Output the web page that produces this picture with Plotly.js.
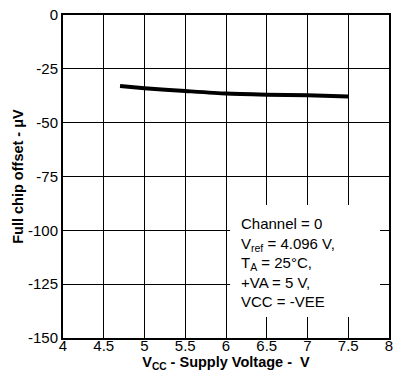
<!DOCTYPE html>
<html><head><meta charset="utf-8">
<script src="https://cdn.plot.ly/plotly-3.0.1.min.js"></script>
<style>html,body{margin:0;padding:0;background:#fff}</style>
</head><body>
<div id="chart" style="width:394px;height:381px"></div>
<script>
const supplyVoltage = [4.7, 5.0, 5.5, 6.0, 6.5, 7.0, 7.5];
const offsetUV = [-33.0, -34.0, -35.3, -36.5, -37.0, -37.3, -37.9];
const xTicks = [4, 4.5, 5, 5.5, 6, 6.5, 7, 7.5, 8];
const xTickLabels = ['4', '4.5', '5', '5.5', '6', '6.5', '7', '7.5', '8'];
const yTicks = [0, -25, -50, -75, -100, -125, -150];
const yTickLabels = ['0', '-25', '-50', '-75', '-100', '-125', '-150'];
const noteLines = ['Channel = 0', 'V<sub>ref</sub> = 4.096 V,', 'T<sub>A</sub> = 25°C,', '+VA = 5 V,', 'VCC = -VEE'];

const font = 'Liberation Sans, Arial, sans-serif';
const trace = {
  x: supplyVoltage, y: offsetUV, type: 'scatter', mode: 'lines',
  line: {color: '#000', width: 4, shape: 'spline', smoothing: 0.6},
  hoverinfo: 'skip'
};
const layout = {
  width: 394, height: 381,
  margin: {l: 63, r: 5, t: 15, b: 43},
  paper_bgcolor: '#fff', plot_bgcolor: '#fff',
  showlegend: false,
  font: {family: font, color: '#000', size: 15},
  xaxis: {
    range: [4, 8], tickvals: xTicks, ticktext: xTickLabels,
    showgrid: true, gridcolor: '#000', gridwidth: 1,
    zeroline: false, showline: true, linecolor: '#000', linewidth: 2, mirror: true,
    ticks: '', ticklen: 0, ticklabelstandoff: -7, tickfont: {size: 15, family: font},
    title: {text: '<b>V<sub>CC</sub> - Supply Voltage -  V</b>', font: {size: 14.5, family: font}, standoff: 4}
  },
  yaxis: {
    range: [-150, 0], tickvals: yTicks, ticktext: yTickLabels,
    showgrid: true, gridcolor: '#000', gridwidth: 1,
    zeroline: false, showline: true, linecolor: '#000', linewidth: 2, mirror: true,
    ticks: '', ticklen: 0, tickfont: {size: 15, family: font},
    title: {text: '<b>Full chip offset - μV</b>', font: {size: 14.5, family: font}, standoff: 1}
  },
  shapes: [{
    type: 'rect', xref: 'x', yref: 'y', x0: 6.05, x1: 7.89, y0: -88.2, y1: -140.3,
    fillcolor: '#fff', line: {width: 0}, layer: 'above'
  }],
  annotations: [{
    xref: 'x', yref: 'y', x: 6.16, y: -91.9, xanchor: 'left', yanchor: 'top',
    text: noteLines.join('<br>'), align: 'left', showarrow: false,
    font: {size: 15, family: font, color: '#000'}
  }]
};
Plotly.newPlot('chart', [trace], layout, {displayModeBar: false, staticPlot: true});
</script>
</body></html>
